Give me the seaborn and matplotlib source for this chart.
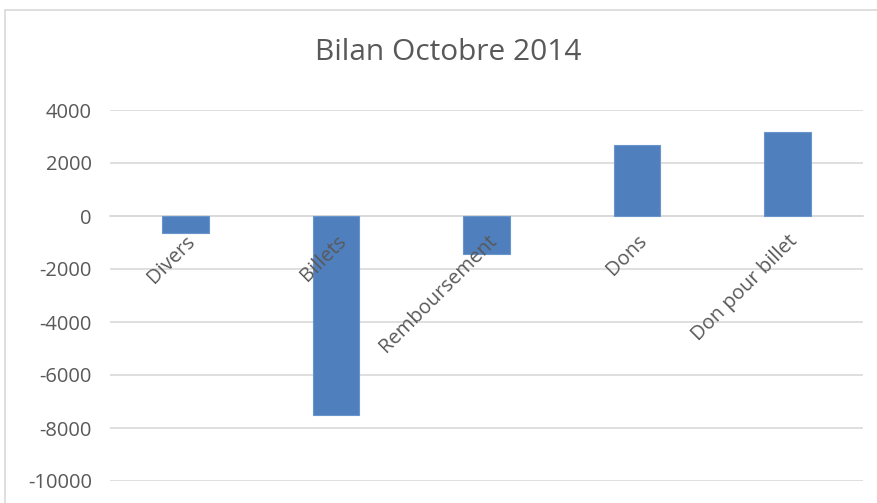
import matplotlib
matplotlib.use("Agg")
import matplotlib.pyplot as plt
import seaborn as sns
import pandas as pd
from matplotlib.patches import Rectangle

categories = ["Divers", "Billets", "Remboursement", "Dons", "Don pour billet"]
values = [-650, -7500, -1450, 2680, 3160]
yticks = [4000, 2000, 0, -2000, -4000, -6000, -8000, -10000]

df = pd.DataFrame({"cat": categories, "val": values})

sns.set_style("white")
plt.rcParams["font.family"] = ["Open Sans", "DejaVu Sans"]

fig = plt.figure(figsize=(8.77, 5.03), dpi=100)
ax = fig.add_axes([110 / 877, 1 - 481 / 503, (863 - 110) / 877, (481 - 110) / 503])

sns.barplot(data=df, x="cat", y="val", color="#4F7FBD", width=0.31,
            edgecolor="#6A95CC", linewidth=0.8, saturation=1, ax=ax, zorder=3)

ax.set_ylim(-10000, 4000)
ax.set_xlim(-0.5, 4.5)
ax.set_yticks(yticks)
ax.set_yticklabels([str(v) for v in yticks], color="#595959", fontsize=14.5)
ax.yaxis.grid(True, color="#D9D9D9", linewidth=1.2, zorder=0)
ax.set_axisbelow(True)
for s in ["left", "right", "top"]:
    ax.spines[s].set_visible(False)
ax.spines["bottom"].set_position(("data", 0))
ax.spines["bottom"].set_color("#D9D9D9")
ax.spines["bottom"].set_linewidth(1.2)
ax.spines["bottom"].set_zorder(1)
ax.tick_params(axis="y", length=0, pad=13)
ax.tick_params(axis="x", length=0, pad=11)
ax.set_xticks(range(len(categories)))
ax.set_xticklabels(categories, rotation=45, ha="right", va="top",
                   rotation_mode="anchor", color="#595959", fontsize=14.5)
ax.xaxis.set_zorder(10)
ax.set_xlabel("")
ax.set_ylabel("")

fig.text(448 / 877, 1 - 52 / 503, "Bilan Octobre 2014", ha="center", va="center",
         fontsize=21.5, color="#595959", family=["Open Sans", "DejaVu Sans"])

fig.patches.append(Rectangle((5 / 877, -0.1), 1.0, 1 - 10 / 503 + 0.1,
                             transform=fig.transFigure, fill=False,
                             edgecolor="#D9D9D9", linewidth=1.2))

fig.savefig("out.png", dpi=100, facecolor="white")
